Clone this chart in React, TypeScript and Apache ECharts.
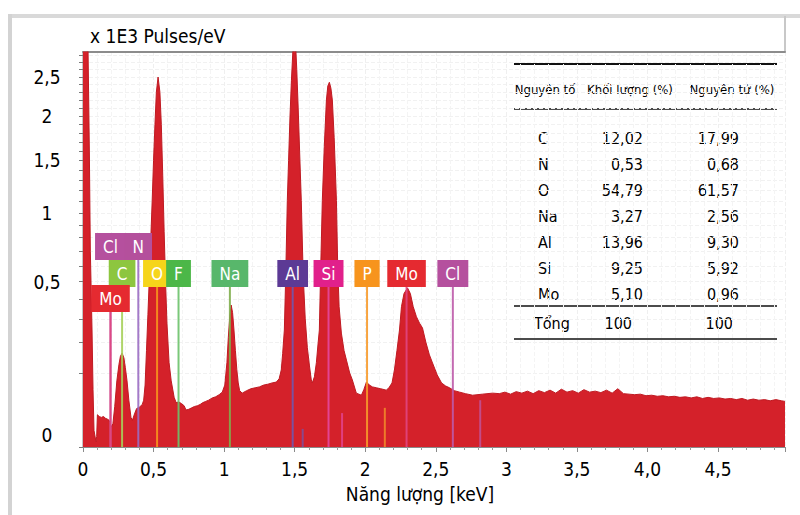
import React, { useEffect, useRef } from 'react';
import * as echarts from 'echarts';

// EDS spectrum: energy (keV) against intensity (x 1E3 pulses/eV)
const ENERGY_KEV = [
  0.0, 0.035, 0.045, 0.052, 0.064, 0.071, 0.078, 0.092, 0.097, 0.102,
  0.115, 0.13, 0.145, 0.16, 0.175, 0.185, 0.2, 0.212, 0.225, 0.24,
  0.255, 0.265, 0.277, 0.29, 0.3, 0.312, 0.325, 0.34, 0.35, 0.365,
  0.38, 0.4, 0.42, 0.43, 0.44, 0.45, 0.46, 0.47, 0.48, 0.49,
  0.5, 0.51, 0.52, 0.532, 0.545, 0.555, 0.565, 0.575, 0.585, 0.595,
  0.61, 0.625, 0.646, 0.66, 0.68, 0.7, 0.717, 0.73, 0.75, 0.77,
  0.79, 0.81, 0.83, 0.85, 0.87, 0.89, 0.916, 0.94, 0.965, 0.987,
  1.005, 1.02, 1.03, 1.04, 1.05, 1.06, 1.07, 1.08, 1.09, 1.1,
  1.11, 1.128, 1.16, 1.19, 1.22, 1.25, 1.28, 1.31, 1.34, 1.37,
  1.39, 1.405, 1.415, 1.427, 1.437, 1.448, 1.457, 1.467, 1.477, 1.487,
  1.497, 1.507, 1.515, 1.525, 1.535, 1.547, 1.56, 1.575, 1.59, 1.605,
  1.618, 1.625, 1.64, 1.654, 1.665, 1.675, 1.685, 1.696, 1.71, 1.725,
  1.735, 1.746, 1.757, 1.767, 1.78, 1.796, 1.805, 1.815, 1.831, 1.85,
  1.867, 1.89, 1.909, 1.937, 1.973, 1.99, 2.009, 2.03, 2.051, 2.08,
  2.11, 2.15, 2.17, 2.19, 2.207, 2.225, 2.243, 2.257, 2.275, 2.3,
  2.32, 2.34, 2.363, 2.385, 2.406, 2.43, 2.455, 2.477, 2.51, 2.541,
  2.57, 2.598, 2.63, 2.669, 2.71, 2.761, 2.83, 2.903, 2.95, 2.99,
  3.03, 3.07, 3.11, 3.15, 3.19, 3.23, 3.27, 3.31, 3.35, 3.39,
  3.43, 3.47, 3.51, 3.55, 3.59, 3.63, 3.67, 3.71, 3.75, 3.79,
  3.83, 3.87, 3.91, 3.95, 3.99, 4.03, 4.07, 4.11, 4.15, 4.19,
  4.23, 4.27, 4.31, 4.35, 4.39, 4.43, 4.47, 4.51, 4.55, 4.59,
  4.63, 4.67, 4.71, 4.75, 4.79, 4.83, 4.87, 4.91, 4.95, 4.975,
];

const COUNTS_K = [
  3.0, 3.0, 1.6, 0.7, 0.25, 0.06, 0.005, 0.0005, 0.002, 0.019,
  0.017, 0.016, 0.017, 0.015, 0.014, 0.013, 0.0073, 0.01, 0.03, 0.08,
  0.125, 0.15, 0.161, 0.145, 0.115, 0.08, 0.04, 0.016, 0.013, 0.02,
  0.027, 0.029, 0.033, 0.04, 0.07, 0.17, 0.32, 0.52, 0.78, 1.1,
  1.5, 1.9, 2.3, 2.5, 2.3, 1.9, 1.35, 0.85, 0.5, 0.28,
  0.13, 0.08, 0.045, 0.036, 0.037, 0.034, 0.031, 0.025, 0.026, 0.028,
  0.03, 0.031, 0.033, 0.036, 0.038, 0.04, 0.044, 0.046, 0.05, 0.055,
  0.07, 0.13, 0.22, 0.31, 0.368, 0.33, 0.25, 0.17, 0.11, 0.075,
  0.058, 0.053, 0.058, 0.062, 0.064, 0.066, 0.07, 0.072, 0.075, 0.077,
  0.085, 0.108, 0.16, 0.25, 0.55, 1.11, 1.5, 2.0, 2.45, 2.85,
  3.0, 2.95, 2.6, 2.1, 1.6, 1.11, 0.55, 0.3, 0.18, 0.12,
  0.082, 0.075, 0.09, 0.13, 0.19, 0.25, 0.6, 1.11, 1.65, 2.2,
  2.38, 2.43, 2.35, 2.2, 1.75, 1.11, 0.6, 0.36, 0.237, 0.17,
  0.138, 0.1, 0.082, 0.053, 0.049, 0.06, 0.077, 0.07, 0.066, 0.064,
  0.062, 0.059, 0.065, 0.075, 0.108, 0.17, 0.25, 0.36, 0.43, 0.462,
  0.43, 0.36, 0.31, 0.28, 0.259, 0.2, 0.155, 0.129, 0.095, 0.075,
  0.068, 0.064, 0.058, 0.055, 0.052, 0.049, 0.051, 0.053, 0.052, 0.055,
  0.051, 0.056, 0.053, 0.057, 0.052, 0.058, 0.054, 0.059, 0.053, 0.061,
  0.055, 0.058, 0.053, 0.06, 0.055, 0.057, 0.054, 0.059, 0.053, 0.062,
  0.052, 0.051, 0.05, 0.051, 0.048, 0.049, 0.047, 0.048, 0.046, 0.047,
  0.045, 0.046, 0.044, 0.046, 0.043, 0.045, 0.043, 0.044, 0.042, 0.043,
  0.041, 0.043, 0.04, 0.042, 0.04, 0.041, 0.039, 0.041, 0.039, 0.038,
];

// Element identification lines (label drawn in a coloured box)
const MARKER_NAMES = ['Cl', 'N', 'C', 'O', 'F', 'Na', 'Al', 'Si', 'P', 'Mo', 'Cl', 'Mo'];
const MARKER_KEV = [0.195, 0.392, 0.277, 0.525, 0.677, 1.041, 1.486, 1.74, 2.013, 2.293, 2.621, 0.195];
// Secondary lines of the same elements (short, no label)
const MINOR_NAMES = ['Al', 'Si', 'P', 'Cl'];
const MINOR_KEV = [1.557, 1.836, 2.139, 2.815];
const MINOR_COUNTS_K = [0.006, 0.021, 0.028, 0.04];

const X_TICK_LABELS = ['0', '0,5', '1', '1,5', '2', '2,5', '3', '3,5', '4,0', '4,5'];
const Y_TICK_VALUES = [0, 0.5, 1, 1.5, 2, 2.5];
const Y_TICK_LABELS = ['0', '0,5', '1', '1,5', '2', '2,5'];
const Y_MINOR_STEP = 0.1;
const Y_MAX = 2.85;
const X_MAX = 4.975;

// Quantification table
const TABLE_HEADERS = ['Nguyên tố', 'Khối lượng (%)', 'Nguyên tử (%)'];
const TABLE_ELEMENTS = ['C', 'N', 'O', 'Na', 'Al', 'Si', 'Mo'];
const TABLE_MASS = [12.02, 0.53, 54.79, 3.27, 13.96, 9.25, 5.1];
const TABLE_ATOM = [17.99, 0.68, 61.57, 2.56, 9.3, 5.92, 0.96];
const TABLE_TOTAL = ['Tổng', '100', '100'];

// ---- styling / layout ----
const FONT = "'Liberation Sans Narrow', 'DejaVu Sans Condensed', 'Arial Narrow', 'Liberation Sans', sans-serif";
const INK = '#000000';
const ELEMENT_COLORS: Record<string, { box: string; line: string }> = {
  Mo: { box: '#e52a30', line: '#e0457f' },
  Cl: { box: '#b5509e', line: '#bd5aa8' },
  N: { box: '#b4509c', line: '#9a6cc2' },
  C: { box: '#8dc63f', line: '#a6d05a' },
  O: { box: '#f6d51a', line: '#f7941d' },
  F: { box: '#4cb748', line: '#6cc26a' },
  Na: { box: '#58b76b', line: '#80ae4c' },
  Al: { box: '#5c3a95', line: '#7256ab' },
  Si: { box: '#e1208b', line: '#e4489d' },
  P: { box: '#f7941d', line: '#f79a2a' },
};
// label row of each marker: 0 = upper, 1 = middle, 2 = lower
const MARKER_ROW = [0, 0, 1, 1, 1, 1, 1, 1, 1, 1, 1, 2];
const ROW_OFFSETS = [187, 160, 135];
const BOX_H = 27;

const fmt = (v: number) => v.toFixed(2).replace('.', ',');

function buildOption(): echarts.EChartsCoreOption {
  const spectrum = ENERGY_KEV.map((e, i) => [e, Math.sqrt(COUNTS_K[i])]);
  const yLabelVals = Y_TICK_VALUES.map((v) => Math.sqrt(v));
  const yTickVals: number[] = [];
  for (let i = 0; i * Y_MINOR_STEP <= Y_MAX + 1e-9; i++) yTickVals.push(Math.sqrt(i * Y_MINOR_STEP));

  const tableGraphics: any[] = [];
  const lineX1 = 514;
  const lineX2 = 777;
  [
    [64, 2],
    [109, 1.5],
    [306, 1.5],
    [339, 1.5],
  ].forEach(([y, w]) =>
    tableGraphics.push({
      type: 'line',
      shape: { x1: lineX1, y1: y, x2: lineX2, y2: y },
      style: { stroke: '#111', lineWidth: w },
    })
  );
  const headerX = [545, 630, 732];
  TABLE_HEADERS.forEach((h, i) =>
    tableGraphics.push({
      type: 'text',
      x: headerX[i],
      y: 89,
      style: { text: h, fill: INK, font: `13px ${FONT}`, align: 'center', verticalAlign: 'middle' },
    })
  );
  const bodyFont = `16px ${FONT}`;
  TABLE_ELEMENTS.forEach((el, i) => {
    const y = 138 + i * 26;
    tableGraphics.push(
      { type: 'text', x: 538, y, style: { text: el, fill: INK, font: bodyFont, align: 'left', verticalAlign: 'middle' } },
      { type: 'text', x: 643, y, style: { text: fmt(TABLE_MASS[i]), fill: INK, font: bodyFont, align: 'right', verticalAlign: 'middle' } },
      { type: 'text', x: 739, y, style: { text: fmt(TABLE_ATOM[i]), fill: INK, font: bodyFont, align: 'right', verticalAlign: 'middle' } }
    );
  });
  const totalX = [534, 632, 733];
  const totalAlign = ['left', 'right', 'right'];
  TABLE_TOTAL.forEach((t, i) =>
    tableGraphics.push({
      type: 'text',
      x: totalX[i],
      y: 323,
      style: { text: t, fill: INK, font: bodyFont, align: totalAlign[i], verticalAlign: 'middle' },
    })
  );

  return {
    animation: false,
    backgroundColor: '#ffffff',
    textStyle: { fontFamily: FONT },
    grid: { left: 83, right: 15, top: 52, bottom: 68, containLabel: false },
    xAxis: [
      {
        type: 'value',
        min: 0,
        max: X_MAX,
        interval: 0.5,
        axisLine: { show: true, lineStyle: { color: '#8a8a8a', width: 1 } },
        axisTick: { show: true, length: 5, lineStyle: { color: '#8a8a8a' } },
        minorTick: { show: true, splitNumber: 5, length: 3, lineStyle: { color: '#9a9a9a' } },
        splitLine: { show: true, lineStyle: { color: '#efefef', type: 'dashed' } },
        minorSplitLine: { show: true, lineStyle: { color: '#f4f4f4', type: 'dashed' } },
        axisLabel: {
          margin: 12,
          fontSize: 19,
          color: INK,
          fontFamily: FONT,
          showMaxLabel: false,
          formatter: (v: number) => X_TICK_LABELS[Math.round(v / 0.5)] ?? '',
        },
      },
      {
        type: 'value',
        position: 'top',
        min: 0,
        max: X_MAX,
        axisLine: { show: true, onZero: false, lineStyle: { color: '#8c8c8c', width: 2 } },
        axisTick: { show: false },
        axisLabel: { show: false },
        splitLine: { show: false },
      },
    ],
    yAxis: [
      {
        type: 'value',
        min: 0,
        max: Math.sqrt(Y_MAX),
        axisLine: { show: true, lineStyle: { color: '#8a8a8a' } },
        axisTick: { show: true, length: 4, customValues: yTickVals, lineStyle: { color: '#7a7a7a' } },
        splitLine: { show: true, lineStyle: { color: '#f1f1f1', type: 'dashed' } },
        axisLabel: {
          customValues: yLabelVals,
          align: 'center',
          margin: 36,
          fontSize: 19,
          color: INK,
          fontFamily: FONT,
          formatter: (v: number) => {
            let best = 0;
            yLabelVals.forEach((t, i) => {
              if (Math.abs(t - v) < Math.abs(yLabelVals[best] - v)) best = i;
            });
            return best === 0 ? `{z|${Y_TICK_LABELS[0]}}` : Y_TICK_LABELS[best];
          },
          rich: { z: { fontSize: 19, fontFamily: FONT, color: INK, padding: [0, 0, 24, 0] } },
        },
      },
      {
        type: 'value',
        position: 'right',
        min: 0,
        max: Math.sqrt(Y_MAX),
        axisLine: { show: true, lineStyle: { color: '#c4c4c4', width: 2 } },
        axisTick: { show: false },
        axisLabel: { show: false },
        splitLine: { show: false },
      },
    ],
    series: [
      {
        type: 'line',
        data: spectrum,
        showSymbol: false,
        symbol: 'none',
        clip: true,
        z: 2,
        lineStyle: { color: '#bf1a22', width: 1 },
        areaStyle: { color: '#d4212a', opacity: 1 },
        silent: true,
      },
      {
        type: 'custom',
        data: MINOR_KEV.map((e, i) => [e, Math.sqrt(MINOR_COUNTS_K[i])]),
        z: 4,
        silent: true,
        renderItem: (params: any, api: any) => {
          const i = params.dataIndex;
          const p0 = api.coord([api.value(0), 0]);
          const p1 = api.coord([api.value(0), api.value(1)]);
          return {
            type: 'line',
            shape: { x1: p0[0], y1: p0[1], x2: p1[0], y2: p1[1] },
            style: { stroke: ELEMENT_COLORS[MINOR_NAMES[i]].line, lineWidth: 2, opacity: 0.75 },
          };
        },
      },
      {
        type: 'custom',
        data: MARKER_KEV.map((e) => [e, 0]),
        z: 5,
        silent: true,
        renderItem: (params: any, api: any) => {
          const i = params.dataIndex;
          const name = MARKER_NAMES[i];
          const c = ELEMENT_COLORS[name];
          const p = api.coord([api.value(0), 0]);
          const bottom = p[1] - ROW_OFFSETS[MARKER_ROW[i]];
          return {
            type: 'group',
            children: [
              {
                type: 'line',
                shape: { x1: p[0], y1: p[1], x2: p[0], y2: bottom },
                style: { stroke: c.line, lineWidth: 2, opacity: 0.9 },
              },
              {
                type: 'text',
                x: p[0],
                y: bottom - BOX_H / 2,
                style: {
                  text: name,
                  fill: '#ffffff',
                  fontSize: 17,
                  fontFamily: FONT,
                  lineHeight: 17,
                  align: 'center',
                  verticalAlign: 'middle',
                  backgroundColor: c.box,
                  padding: [5, 8, 5, 8],
                },
              },
            ],
          };
        },
      },
    ],
    graphic: [
      // page frame
      { type: 'rect', shape: { x: 8, y: 14, width: 792, height: 4 }, style: { fill: '#d9d9d9' }, silent: true },
      { type: 'rect', shape: { x: 8, y: 14, width: 4, height: 501 }, style: { fill: '#d3d3d3' }, silent: true },
      { type: 'line', shape: { x1: 785, y1: 16, x2: 785, y2: 52 }, style: { stroke: '#c8c8c8', lineWidth: 2 }, silent: true },
      {
        type: 'text',
        x: 90,
        y: 36,
        style: { text: 'x 1E3 Pulses/eV', fill: INK, font: `19px ${FONT}`, align: 'left', verticalAlign: 'middle' },
      },
      {
        type: 'text',
        x: 420,
        y: 494,
        style: { text: 'Năng lượng [keV]', fill: INK, font: `19px ${FONT}`, align: 'center', verticalAlign: 'middle' },
      },
      ...tableGraphics,
    ],
  };
}

export default function App() {
  const ref = useRef<HTMLDivElement>(null);
  useEffect(() => {
    if (!ref.current) return;
    const chart = echarts.init(ref.current, null, { renderer: 'svg' });
    chart.setOption(buildOption());
    return () => chart.dispose();
  }, []);
  return (
    <div
      ref={ref}
      style={{ position: 'fixed', left: 0, top: 0, width: 800, height: 515, background: '#ffffff' }}
    />
  );
}
